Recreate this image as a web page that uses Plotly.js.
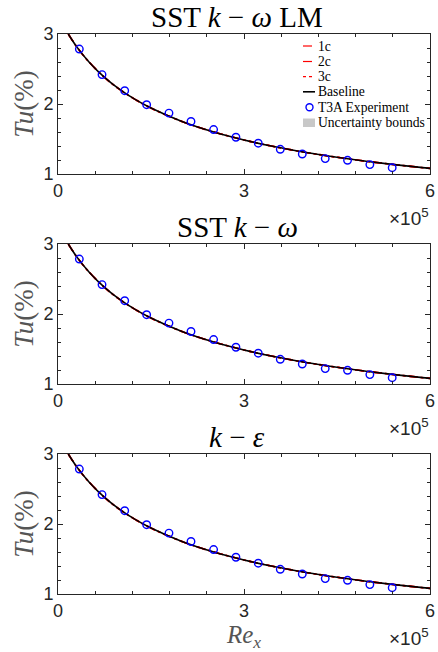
<!DOCTYPE html>
<html><head><meta charset="utf-8">
<script src="https://cdn.plot.ly/plotly-3.0.1.min.js"></script>
<style>html,body{margin:0;padding:0;background:#fff}#c{width:438px;height:652px}</style>
</head><body><div id="c"></div>
<script>
// Experimental (T3A) points, Re_x and Tu(%)
const expRe = [34400, 71000, 107600, 143000, 179000, 214500, 251000, 287000, 323000, 358500, 394000, 431000, 467000, 503000, 539000];
const expTu = [2.785, 2.42, 2.19, 1.99, 1.87, 1.75, 1.635, 1.525, 1.44, 1.353, 1.286, 1.22, 1.196, 1.134, 1.09];
// Simulated curves (baseline and perturbations overlap)
const simRe = [16600, 30000, 50000, 75000, 100000, 125000, 150000, 200000, 250000, 300000, 350000, 400000, 450000, 500000, 550000, 600000];
const baseTu = [3.00, 2.82, 2.60, 2.38, 2.205, 2.062, 1.942, 1.750, 1.603, 1.486, 1.389, 1.308, 1.239, 1.179, 1.127, 1.080];
const c1Tu = baseTu, c2Tu = baseTu, c3Tu = baseTu;
const panelTitles = ['SST <i>k</i> − <i>ω</i> LM', 'SST <i>k</i> − <i>ω</i>', '<i>k</i> − <i>ε</i>'];
const legendNames = ['1c', '2c', '3c', 'Baseline', 'T3A Experiment', 'Uncertainty bounds'];
const xTickVals = [0, 300000, 600000];
const xTickText = ['0', '3', '6'];
const yTickVals = [1, 2, 3];

const W = 438, H = 652;
const tops = [34, 244, 454], bots = [174, 384, 594];
const axCol = '#262626';
const serif = 'Liberation Serif';
const traces = [], layout = {
  width: W, height: H, margin: {l:0, r:0, t:0, b:0},
  paper_bgcolor: '#fff', plot_bgcolor: '#fff', showlegend: false,
  font: {family: 'Liberation Sans', color: axCol},
  annotations: [], shapes: []
};
for (let i = 0; i < 3; i++) {
  const s = i === 0 ? '' : String(i + 1);
  const xa = 'x' + s, ya = 'y' + s;
  traces.push({x: simRe.concat(simRe.slice().reverse()), y: baseTu.concat(baseTu.slice().reverse()), xaxis: xa, yaxis: ya,
    fill: 'toself', fillcolor: 'rgba(200,200,200,0.8)', line: {width: 0}, mode: 'lines', name: 'Uncertainty bounds'});
  traces.push({x: simRe, y: c1Tu, xaxis: xa, yaxis: ya, mode: 'lines', line: {color: '#ff0000', width: 1.6, dash: 'dashdot', shape: 'spline'}, name: '1c'});
  traces.push({x: simRe, y: c2Tu, xaxis: xa, yaxis: ya, mode: 'lines', line: {color: '#ff0000', width: 1.6, dash: 'dash', shape: 'spline'}, name: '2c'});
  traces.push({x: simRe, y: c3Tu, xaxis: xa, yaxis: ya, mode: 'lines', line: {color: '#ff0000', width: 1.6, dash: 'dot', shape: 'spline'}, name: '3c'});
  traces.push({x: simRe, y: baseTu, xaxis: xa, yaxis: ya, mode: 'lines', line: {color: '#000', width: 1.6, shape: 'spline'}, name: 'Baseline'});
  traces.push({x: expRe, y: expTu, xaxis: xa, yaxis: ya, mode: 'markers', marker: {symbol: 'circle-open', color: '#0000ff', size: 7.5, line: {width: 1.4, color: '#0000ff'}}, name: 'T3A Experiment'});
  layout['xaxis' + s] = {domain: [58 / W, 430 / W], anchor: ya, range: [0, 600000], tickvals: xTickVals, ticktext: xTickText,
    ticks: 'inside', ticklen: 5, tickcolor: axCol, showline: true, linecolor: axCol, linewidth: 1, mirror: 'allticks', showgrid: false, zeroline: false,
    tickfont: {size: 18, color: axCol}, minor: {dtick: 60000, tick0: 0, ticks: 'inside', ticklen: 3, tickcolor: axCol}};
  layout['yaxis' + s] = {domain: [1 - bots[i] / H, 1 - tops[i] / H], anchor: xa, range: [1, 3], tickvals: yTickVals,
    ticks: 'inside', ticklen: 5, tickcolor: axCol, showline: true, linecolor: axCol, linewidth: 1, mirror: 'allticks', showgrid: false, zeroline: false,
    tickfont: {size: 18, color: axCol}, minor: {dtick: 0.2, tick0: 1, ticks: 'inside', ticklen: 3, tickcolor: axCol},
    title: {text: '<i>Tu</i>(%)', font: {family: serif, size: 27, color: '#555'}, standoff: 1}};
  layout.annotations.push({xref: 'paper', yref: 'paper', x: 237 / W, y: 1 - (tops[i] + 1) / H, xanchor: 'center', yanchor: 'bottom',
    text: panelTitles[i], showarrow: false, font: {family: serif, size: 29, color: '#000'}});
  layout.annotations.push({xref: 'paper', yref: 'paper', x: 431 / W, y: 1 - (bots[i] + 29) / H, xanchor: 'right', yanchor: 'top',
    text: '×10<sup>5</sup>', showarrow: false, font: {family: 'Liberation Sans', size: 19, color: axCol}});
}
layout.xaxis3.title = {text: '<i>Re<sub>x</sub></i>', font: {family: serif, size: 25, color: '#555'}, standoff: 2};

// Manual legend (top panel), compact like the reference
const legRows = [46, 61.5, 76.7, 91.8, 107.2, 122.5];
const legX0 = 303, legX1 = 315, legTx = 317;
const px = v => v / W, py = v => 1 - v / H;
const dashes = ['dashdot', 'dash', 'dot'];
for (let k = 0; k < 3; k++) {
  layout.shapes.push({type: 'line', xref: 'paper', yref: 'paper', x0: px(legX0), x1: px(legX1), y0: py(legRows[k]), y1: py(legRows[k]),
    line: {color: '#ff0000', width: 1.2, dash: dashes[k]}});
}
layout.shapes.push({type: 'line', xref: 'paper', yref: 'paper', x0: px(legX0), x1: px(legX1), y0: py(legRows[3]), y1: py(legRows[3]),
  line: {color: '#000', width: 1.6}});
layout.shapes.push({type: 'circle', xref: 'paper', yref: 'paper', x0: px(306), x1: px(313), y0: py(legRows[4] + 3.5), y1: py(legRows[4] - 3.5),
  line: {color: '#0000ff', width: 1.4}});
layout.shapes.push({type: 'rect', xref: 'paper', yref: 'paper', x0: px(legX0), x1: px(legX1), y0: py(legRows[5] + 4.5), y1: py(legRows[5] - 4),
  fillcolor: '#c8c8c8', line: {width: 0}});
legendNames.forEach((n, k) => {
  layout.annotations.push({xref: 'paper', yref: 'paper', x: px(legTx), y: py(legRows[k]), xanchor: 'left', yanchor: 'middle',
    text: n, showarrow: false, font: {family: serif, size: 13.6, color: '#000'}, borderpad: 0});
});
Plotly.newPlot('c', traces, layout, {displayModeBar: false, staticPlot: true});
</script></body></html>
